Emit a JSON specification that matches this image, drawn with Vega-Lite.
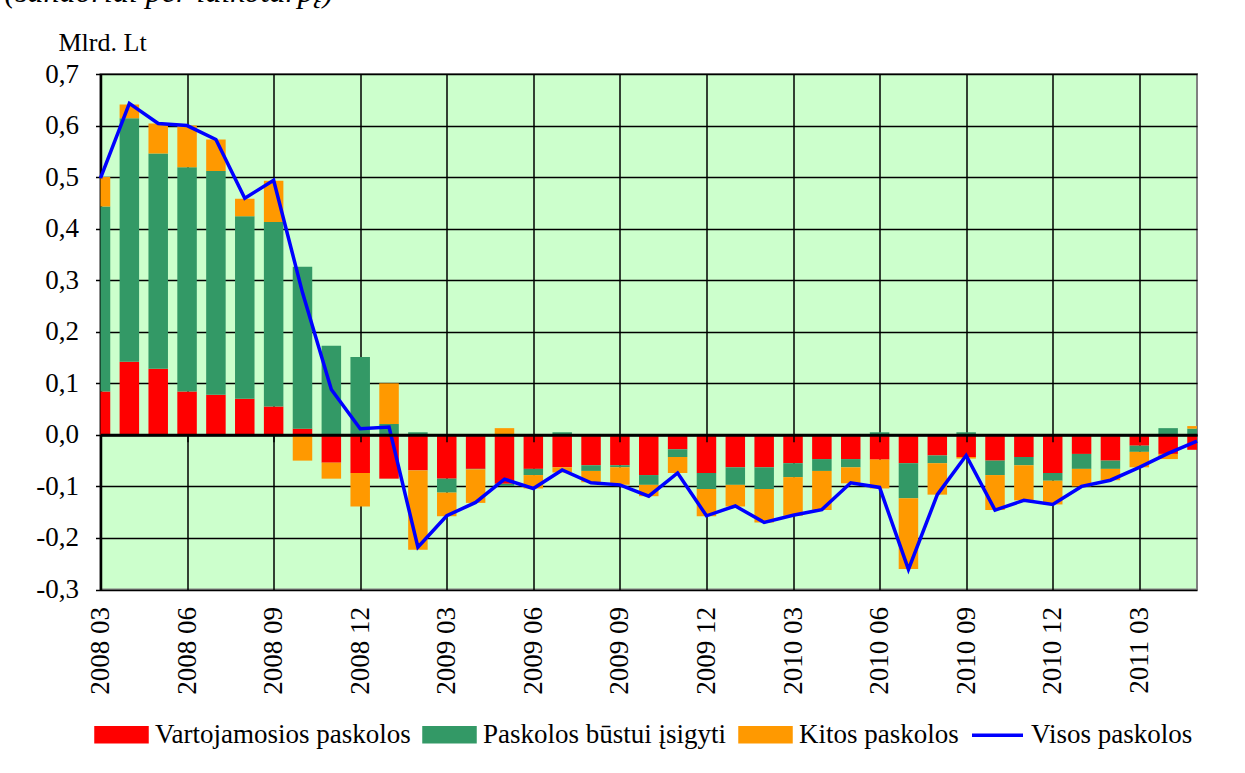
{
  "$schema": "https://vega.github.io/schema/vega-lite/v6.json",
  "width": 1096.5,
  "height": 515.5,
  "autosize": {"type": "none"},
  "padding": {"left": 100.5, "top": 74, "right": 48, "bottom": 183.5},
  "background": "white",
  "title": {"text": "(sandoriai per laikotarpį)", "anchor": "start", "frame": "group", "fontStyle": "italic", "fontWeight": "normal", "fontSize": 32, "font": "'Liberation Serif', 'DejaVu Serif', serif", "color": "black", "dx": -96, "offset": 20},
  "data": {"values": [
    {"m": "2008 03", "Vartojamosios paskolos": 0.084, "Paskolos būstui įsigyti": 0.359, "Kitos paskolos": 0.057, "Visos paskolos": 0.498},
    {"m": "2008 04", "Vartojamosios paskolos": 0.142, "Paskolos būstui įsigyti": 0.472, "Kitos paskolos": 0.027, "Visos paskolos": 0.643},
    {"m": "2008 05", "Vartojamosios paskolos": 0.128, "Paskolos būstui įsigyti": 0.418, "Kitos paskolos": 0.058, "Visos paskolos": 0.604},
    {"m": "2008 06", "Vartojamosios paskolos": 0.084, "Paskolos būstui įsigyti": 0.435, "Kitos paskolos": 0.081, "Visos paskolos": 0.600},
    {"m": "2008 07", "Vartojamosios paskolos": 0.078, "Paskolos būstui įsigyti": 0.434, "Kitos paskolos": 0.061, "Visos paskolos": 0.573},
    {"m": "2008 08", "Vartojamosios paskolos": 0.070, "Paskolos būstui įsigyti": 0.354, "Kitos paskolos": 0.034, "Visos paskolos": 0.459},
    {"m": "2008 09", "Vartojamosios paskolos": 0.055, "Paskolos būstui įsigyti": 0.358, "Kitos paskolos": 0.080, "Visos paskolos": 0.494},
    {"m": "2008 10", "Vartojamosios paskolos": 0.012, "Paskolos būstui įsigyti": 0.314, "Kitos paskolos": -0.050, "Visos paskolos": 0.276},
    {"m": "2008 11", "Vartojamosios paskolos": -0.054, "Paskolos būstui įsigyti": 0.173, "Kitos paskolos": -0.031, "Visos paskolos": 0.088},
    {"m": "2008 12", "Vartojamosios paskolos": -0.074, "Paskolos būstui įsigyti": 0.151, "Kitos paskolos": -0.065, "Visos paskolos": 0.012},
    {"m": "2009 01", "Vartojamosios paskolos": -0.085, "Paskolos būstui įsigyti": 0.021, "Kitos paskolos": 0.079, "Visos paskolos": 0.015},
    {"m": "2009 02", "Vartojamosios paskolos": -0.069, "Paskolos būstui įsigyti": 0.005, "Kitos paskolos": -0.154, "Visos paskolos": -0.218},
    {"m": "2009 03", "Vartojamosios paskolos": -0.085, "Paskolos būstui įsigyti": -0.027, "Kitos paskolos": -0.046, "Visos paskolos": -0.157},
    {"m": "2009 04", "Vartojamosios paskolos": -0.066, "Paskolos būstui įsigyti": -0.001, "Kitos paskolos": -0.065, "Visos paskolos": -0.131},
    {"m": "2009 05", "Vartojamosios paskolos": -0.095, "Paskolos būstui įsigyti": -0.004, "Kitos paskolos": 0.013, "Visos paskolos": -0.086},
    {"m": "2009 06", "Vartojamosios paskolos": -0.066, "Paskolos būstui įsigyti": -0.012, "Kitos paskolos": -0.026, "Visos paskolos": -0.104},
    {"m": "2009 07", "Vartojamosios paskolos": -0.063, "Paskolos būstui įsigyti": 0.005, "Kitos paskolos": -0.010, "Visos paskolos": -0.068},
    {"m": "2009 08", "Vartojamosios paskolos": -0.059, "Paskolos būstui įsigyti": -0.011, "Kitos paskolos": -0.022, "Visos paskolos": -0.093},
    {"m": "2009 09", "Vartojamosios paskolos": -0.059, "Paskolos būstui įsigyti": -0.004, "Kitos paskolos": -0.034, "Visos paskolos": -0.097},
    {"m": "2009 10", "Vartojamosios paskolos": -0.078, "Paskolos būstui įsigyti": -0.019, "Kitos paskolos": -0.022, "Visos paskolos": -0.119},
    {"m": "2009 11", "Vartojamosios paskolos": -0.028, "Paskolos būstui įsigyti": -0.015, "Kitos paskolos": -0.031, "Visos paskolos": -0.074},
    {"m": "2009 12", "Vartojamosios paskolos": -0.074, "Paskolos būstui įsigyti": -0.031, "Kitos paskolos": -0.053, "Visos paskolos": -0.157},
    {"m": "2010 01", "Vartojamosios paskolos": -0.063, "Paskolos būstui įsigyti": -0.034, "Kitos paskolos": -0.042, "Visos paskolos": -0.138},
    {"m": "2010 02", "Vartojamosios paskolos": -0.063, "Paskolos būstui įsigyti": -0.042, "Kitos paskolos": -0.065, "Visos paskolos": -0.170},
    {"m": "2010 03", "Vartojamosios paskolos": -0.055, "Paskolos būstui įsigyti": -0.027, "Kitos paskolos": -0.075, "Visos paskolos": -0.156},
    {"m": "2010 04", "Vartojamosios paskolos": -0.047, "Paskolos būstui įsigyti": -0.023, "Kitos paskolos": -0.076, "Visos paskolos": -0.145},
    {"m": "2010 05", "Vartojamosios paskolos": -0.047, "Paskolos būstui įsigyti": -0.016, "Kitos paskolos": -0.031, "Visos paskolos": -0.093},
    {"m": "2010 06", "Vartojamosios paskolos": -0.048, "Paskolos būstui įsigyti": 0.005, "Kitos paskolos": -0.056, "Visos paskolos": -0.102},
    {"m": "2010 07", "Vartojamosios paskolos": -0.055, "Paskolos būstui įsigyti": -0.068, "Kitos paskolos": -0.137, "Visos paskolos": -0.261},
    {"m": "2010 08", "Vartojamosios paskolos": -0.040, "Paskolos būstui įsigyti": -0.015, "Kitos paskolos": -0.061, "Visos paskolos": -0.116},
    {"m": "2010 09", "Vartojamosios paskolos": -0.043, "Paskolos būstui įsigyti": 0.005, "Kitos paskolos": -0.003, "Visos paskolos": -0.040},
    {"m": "2010 10", "Vartojamosios paskolos": -0.050, "Paskolos būstui įsigyti": -0.028, "Kitos paskolos": -0.068, "Visos paskolos": -0.146},
    {"m": "2010 11", "Vartojamosios paskolos": -0.043, "Paskolos būstui įsigyti": -0.016, "Kitos paskolos": -0.068, "Visos paskolos": -0.127},
    {"m": "2010 12", "Vartojamosios paskolos": -0.074, "Paskolos būstui įsigyti": -0.015, "Kitos paskolos": -0.046, "Visos paskolos": -0.135},
    {"m": "2011 01", "Vartojamosios paskolos": -0.037, "Paskolos būstui įsigyti": -0.029, "Kitos paskolos": -0.034, "Visos paskolos": -0.100},
    {"m": "2011 02", "Vartojamosios paskolos": -0.050, "Paskolos būstui įsigyti": -0.016, "Kitos paskolos": -0.022, "Visos paskolos": -0.088},
    {"m": "2011 03", "Vartojamosios paskolos": -0.021, "Paskolos būstui įsigyti": -0.012, "Kitos paskolos": -0.030, "Visos paskolos": -0.063},
    {"m": "2011 04", "Vartojamosios paskolos": -0.037, "Paskolos būstui įsigyti": 0.013, "Kitos paskolos": -0.010, "Visos paskolos": -0.036},
    {"m": "2011 05", "Vartojamosios paskolos": -0.029, "Paskolos būstui įsigyti": 0.012, "Kitos paskolos": 0.005, "Visos paskolos": -0.012}
  ]},
  "layer": [
    {
      "transform": [{"fold": ["Vartojamosios paskolos", "Paskolos būstui įsigyti", "Kitos paskolos"], "as": ["serija", "reiksme"]}],
      "mark": {"type": "bar", "width": 19.5, "clip": true},
      "encoding": {
        "x": {
          "field": "m", "type": "ordinal", "sort": null,
          "scale": {"type": "point", "padding": 0},
          "axis": {
            "orient": "bottom",
            "values": ["2008 03", "2008 06", "2008 09", "2008 12", "2009 03", "2009 06", "2009 09", "2009 12", "2010 03", "2010 06", "2010 09", "2010 12", "2011 03"],
            "title": null, "labelAngle": -90, "labelFontSize": 27, "labelColor": "black",
            "labelPadding": 17, "ticks": false, "domain": false,
            "grid": true, "gridColor": "black", "gridWidth": 1.5, "gridOpacity": 1, "zindex": 0
          }
        },
        "y": {
          "field": "reiksme", "type": "quantitative", "stack": "zero", "title": "Mlrd. Lt",
          "scale": {"domain": [-0.3, 0.7], "nice": false, "zero": false},
          "axis": {
            "values": [-0.3, -0.2, -0.1, 0, 0.1, 0.2, 0.3, 0.4, 0.5, 0.6, 0.7],
            "labelExpr": "replace(replace(format(datum.value, '.1f'), '.', ','), '−', '-')",
            "titleAngle": 0, "titleAlign": "left", "titleBaseline": "alphabetic", "titleX": -42.5, "titleY": -24,
            "titleFontSize": 26, "titleFontWeight": "normal", "titleColor": "black",
            "labelFontSize": 27, "labelColor": "black", "labelPadding": 17,
            "tickSize": 5, "tickColor": "black", "tickWidth": 1.5,
            "domainColor": "black", "domainWidth": 2.5,
            "grid": true, "gridColor": "black", "gridWidth": 1.5, "gridOpacity": 1, "zindex": 0
          }
        },
        "color": {
          "field": "serija", "type": "nominal",
          "scale": {"domain": ["Vartojamosios paskolos", "Paskolos būstui įsigyti", "Kitos paskolos", "Visos paskolos"], "range": ["#FF0000", "#339966", "#FF9900", "#0000FF"]},
          "legend": {
            "orient": "none", "legendX": -6.5, "legendY": 633, "direction": "horizontal", "columns": 4, "title": null,
            "labelFontSize": 27, "labelColor": "black", "labelOffset": 6, "labelLimit": 400,
            "columnPadding": 6, "symbolSize": 2601, "padding": 0,
            "encode": {"symbols": {"update": {
              "shape": {"signal": "datum.value === 'Visos paskolos' ? 'stroke' : 'M-1,-0.275L1,-0.275L1,0.275L-1,0.275Z'"},
              "fill": {"signal": "datum.value === 'Visos paskolos' ? 'transparent' : scale('color', datum.value)"},
              "stroke": {"signal": "datum.value === 'Visos paskolos' ? scale('color', datum.value) : 'transparent'"},
              "strokeWidth": {"value": 3.5},
              "size": {"value": 2601},
              "opacity": {"value": 1}
            }}}
          }
        },
        "order": {"field": "serija", "sort": "descending"}
      }
    },
    {
      "mark": {"type": "line", "strokeWidth": 3.5},
      "encoding": {
        "x": {
          "field": "m", "type": "ordinal", "sort": null,
          "axis": {
            "orient": "bottom",
            "values": ["2008 03", "2008 06", "2008 09", "2008 12", "2009 03", "2009 06", "2009 09", "2009 12", "2010 03", "2010 06", "2010 09", "2010 12", "2011 03"],
            "title": null, "labels": false, "grid": false, "domain": true, "domainColor": "black", "domainWidth": 3,
            "ticks": true, "tickColor": "black", "tickSize": 7, "tickWidth": 1.5, "offset": -154.65, "zindex": 1
          }
        },
        "y": {"field": "Visos paskolos", "type": "quantitative", "title": "Mlrd. Lt"},
        "color": {"datum": "Visos paskolos"}
      }
    }
  ],
  "resolve": {"axis": {"x": "independent"}},
  "config": {
    "font": "'Liberation Serif', 'DejaVu Serif', serif",
    "axis": {"labelFont": "'Liberation Serif', 'DejaVu Serif', serif", "titleFont": "'Liberation Serif', 'DejaVu Serif', serif"},
    "legend": {"labelFont": "'Liberation Serif', 'DejaVu Serif', serif"},
    "view": {"stroke": "#808080", "strokeWidth": 2, "fill": "#CCFFCC"}
  }
}
